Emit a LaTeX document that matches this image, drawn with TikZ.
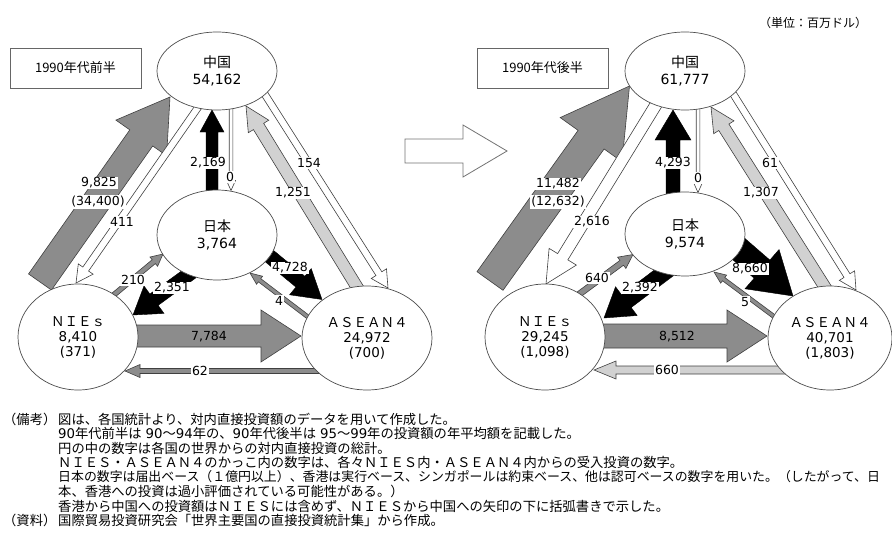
\documentclass[tikz,border=0pt]{standalone}
\usepackage{fontspec}
\setmainfont{Noto Sans CJK JP}
\newfontfamily\nm{DejaVu Sans}
\usetikzlibrary{calc,shapes.geometric}

\newcommand\fatarrow[6][]{%
  \coordinate (bh) at ($(#3)!#6!(#2)$);
  \draw[#1] ($(#2)!#4!90:(#3)$) -- ($(bh)!#4!-90:(#2)$) -- ($(bh)!#5!-90:(#2)$) -- (#3)
    -- ($(bh)!#5!90:(#2)$) -- ($(bh)!#4!90:(#2)$) -- ($(#2)!#4!-90:(#3)$) -- cycle;}

\tikzset{
  region/.style={ellipse, draw=black!70, line width=0.7pt, fill=white, inner sep=0pt,
    align=center, font=\fontsize{14}{17.5}\selectfont},
  tagbox/.style={draw=black!60, line width=0.8pt, minimum width=131pt, minimum height=40pt,
    inner sep=0pt, font=\fontsize{13}{15}\selectfont},
  darr/.style={draw=black!75, line width=0.6pt, line join=miter},
  grayarr/.style={darr, fill=black!45},
  lgarr/.style={darr, fill=black!18},
  blkarr/.style={draw=black, line width=0.4pt, fill=black},
  whtarr/.style={darr, fill=white},
  hollow/.style={draw=black!55, line width=0.8pt, fill=white},
  lbl/.style={font=\nm\fontsize{12.5}{14}\selectfont, fill=white, inner sep=1pt},
  lblnb/.style={font=\nm\fontsize{12.5}{14}\selectfont, inner sep=1pt},
  note/.style={anchor=west, font=\fontsize{13.3}{14}\selectfont, inner sep=0pt},
}

\begin{document}
\begin{tikzpicture}[x=1pt,y=-1pt]
\useasboundingbox (0,0) rectangle (892,535);

% ---------------- coordinates of arrow ends (left) ----------------
\coordinate (a1s) at (40,282);   \coordinate (a1e) at (170,97);
\coordinate (a2s) at (199,106);  \coordinate (a2e) at (76,283);
\coordinate (a3s) at (212,196);  \coordinate (a3e) at (212,110);
\coordinate (a4s) at (231,106);  \coordinate (a4e) at (231,190.5);
\coordinate (a5s) at (360,292);  \coordinate (a5e) at (246,106);
\coordinate (a6s) at (264,93);   \coordinate (a6e) at (388,288);
\coordinate (a7s) at (192,272);  \coordinate (a7e) at (133,315);
\coordinate (a8s) at (110,298);  \coordinate (a8e) at (163,254);
\coordinate (a9s) at (262,250);  \coordinate (a9e) at (322,299.5);
\coordinate (a10s) at (312,320); \coordinate (a10e) at (250,273);
\coordinate (a11s) at (130,336); \coordinate (a11e) at (301,336);
\coordinate (a12s) at (325,371); \coordinate (a12e) at (125,371);
% ---------------- coordinates of arrow ends (right) ----------------
\coordinate (b1s) at (490,281);  \coordinate (b1e) at (629.5,86);
\coordinate (b2s) at (657,103);  \coordinate (b2e) at (546,284);
\coordinate (b3s) at (673,197);  \coordinate (b3e) at (673,110);
\coordinate (b4s) at (698,106);  \coordinate (b4e) at (698,192.5);
\coordinate (b5s) at (828,292);  \coordinate (b5e) at (711,107);
\coordinate (b6s) at (732,92);   \coordinate (b6e) at (856,290);
\coordinate (b7s) at (669,269);  \coordinate (b7e) at (604,318);
\coordinate (b8s) at (574,298);  \coordinate (b8e) at (633,254.5);
\coordinate (b9s) at (733,244);  \coordinate (b9e) at (793,296);
\coordinate (b10s) at (776,318); \coordinate (b10e) at (714,272);
\coordinate (b11s) at (598,336); \coordinate (b11e) at (767,336);
\coordinate (b12s) at (790,370); \coordinate (b12e) at (594,370);
% middle arrow
\coordinate (ms) at (405,151);   \coordinate (me) at (507,151);

% ---------------- arrows (left) ----------------
\fatarrow[grayarr]{a1s}{a1e}{14pt}{31pt}{50pt}
\fatarrow[whtarr]{a2s}{a2e}{3.5pt}{9pt}{17pt}
\fatarrow[blkarr]{a3s}{a3e}{6pt}{12pt}{22pt}
\fatarrow[whtarr]{a4s}{a4e}{1.8pt}{4.5pt}{10pt}
\fatarrow[lgarr]{a5s}{a5e}{6pt}{12pt}{24pt}
\fatarrow[whtarr]{a6s}{a6e}{3.5pt}{9pt}{17pt}
\fatarrow[blkarr]{a7s}{a7e}{7pt}{17pt}{26pt}
\fatarrow[grayarr]{a8s}{a8e}{2.5pt}{6pt}{12pt}
\fatarrow[blkarr]{a9s}{a9e}{7pt}{17pt}{28pt}
\fatarrow[grayarr]{a10s}{a10e}{2pt}{5pt}{12pt}
\fatarrow[grayarr]{a11s}{a11e}{11pt}{26pt}{40pt}
\fatarrow[grayarr]{a12s}{a12e}{2.5pt}{6.5pt}{15pt}
% ---------------- arrows (right) ----------------
\fatarrow[grayarr]{b1s}{b1e}{16pt}{38pt}{66pt}
\fatarrow[whtarr]{b2s}{b2e}{6pt}{16pt}{32pt}
\fatarrow[blkarr]{b3s}{b3e}{7pt}{18pt}{30pt}
\fatarrow[whtarr]{b4s}{b4e}{1.8pt}{4.5pt}{10pt}
\fatarrow[lgarr]{b5s}{b5e}{6pt}{12pt}{24pt}
\fatarrow[whtarr]{b6s}{b6e}{3.5pt}{9pt}{17pt}
\fatarrow[blkarr]{b7s}{b7e}{8pt}{18pt}{28pt}
\fatarrow[grayarr]{b8s}{b8e}{3pt}{7pt}{14pt}
\fatarrow[blkarr]{b9s}{b9e}{12pt}{26pt}{41pt}
\fatarrow[grayarr]{b10s}{b10e}{2pt}{5pt}{12pt}
\fatarrow[grayarr]{b11s}{b11e}{12pt}{26pt}{40pt}
\fatarrow[lgarr]{b12s}{b12e}{4pt}{9pt}{22pt}
% middle hollow arrow
\fatarrow[hollow]{ms}{me}{12pt}{26pt}{44pt}

% ---------------- regions ----------------
\node[region, minimum width=120pt, minimum height=78pt] (cnL) at (217,71) {中国\\{\nm 54,162}};
\node[region, minimum width=120pt, minimum height=90pt] (jpL) at (217,235) {日本\\{\nm 3,764}};
\node[region, minimum width=120pt, minimum height=106pt, font=\fontsize{13.5}{15}\selectfont] (niL) at (78,337) {ＮＩＥｓ\\{\nm 8,410}\\{\nm (371)}};
\node[region, minimum width=130pt, minimum height=104pt, font=\fontsize{13.5}{15}\selectfont] (asL) at (367,338) {ＡＳＥＡＮ４\\{\nm 24,972}\\{\nm (700)}};

\node[region, minimum width=120pt, minimum height=78pt] (cnR) at (685,71) {中国\\{\nm 61,777}};
\node[region, minimum width=120pt, minimum height=84pt] (jpR) at (685,234) {日本\\{\nm 9,574}};
\node[region, minimum width=120pt, minimum height=106pt, font=\fontsize{13.5}{15}\selectfont] (niR) at (545,337) {ＮＩＥｓ\\{\nm 29,245}\\{\nm (1,098)}};
\node[region, minimum width=124pt, minimum height=104pt, font=\fontsize{13.5}{15}\selectfont] (asR) at (830,338) {ＡＳＥＡＮ４\\{\nm 40,701}\\{\nm (1,803)}};

% ---------------- tags ----------------
\node[tagbox] (tagL) at (75.5,68) {1990年代前半};
\node[tagbox] (tagR) at (542.5,68) {1990年代後半};
\node[font=\fontsize{12}{14}\selectfont, inner sep=0pt] (unit) at (813,23) {（単位：百万ドル）};

% ---------------- labels (left) ----------------
\node[lbl] (la1) at (99,183) {9,825};
\node[lbl] (la1b) at (98,202) {(34,400)};
\node[lbl] (la2) at (122,222) {411};
\node[lbl] (la3) at (208,163) {2,169};
\node[lbl] (la4) at (230,177) {0};
\node[lbl] (la5) at (293,193) {1,251};
\node[lbl] (la6) at (309,163) {154};
\node[lbl] (la7) at (172,288) {2,351};
\node[lbl] (la8) at (133,280) {210};
\node[lbl] (la9) at (290,268) {4,728};
\node[lbl] (la10) at (279,301) {4};
\node[lblnb] (la11) at (209,337) {7,784};
\node[lbl] (la12) at (200,371) {62};
% ---------------- labels (right) ----------------
\node[lbl] (lb1) at (558,184) {11,482};
\node[lbl] (lb1b) at (558,202) {(12,632)};
\node[lbl] (lb2) at (592,222) {2,616};
\node[lbl] (lb3) at (673,163) {4,293};
\node[lbl] (lb4) at (698,178) {0};
\node[lbl] (lb5) at (761,193) {1,307};
\node[lbl] (lb6) at (770,163) {61};
\node[lbl] (lb7) at (640,288) {2,392};
\node[lbl] (lb8) at (597,278) {640};
\node[lbl] (lb9) at (750,269) {8,660};
\node[lbl] (lb10) at (745,302) {5};
\node[lblnb] (lb11) at (677,337) {8,512};
\node[lbl] (lb12) at (667,370) {660};

% ---------------- notes ----------------
\node[note] (nh1) at (3,419) {（備考）};
\node[note] (n1) at (58,419) {図は、各国統計より、対内直接投資額のデータを用いて作成した。};
\node[note] (n2) at (58,433.5) {{\nm 90}年代前半は\hspace{4pt}{\nm 90}～{\nm 94}年の、{\nm 90}年代後半は\hspace{4pt}{\nm 95}～{\nm 99}年の投資額の年平均額を記載した。};
\node[note] (n3) at (58,448) {円の中の数字は各国の世界からの対内直接投資の総計。};
\node[note] (n4) at (58,462.5) {ＮＩＥＳ・ＡＳＥＡＮ４のかっこ内の数字は、各々ＮＩＥＳ内・ＡＳＥＡＮ４内からの受入投資の数字。};
\node[note, font=\fontsize{12.9}{14}\selectfont] (n5) at (58,477) {日本の数字は届出ベース（１億円以上）、香港は実行ベース、シンガポールは約束ベース、他は認可ベースの数字を用いた。（したがって、日};
\node[note] (n6) at (58,491.5) {本、香港への投資は過小評価されている可能性がある。）};
\node[note] (n7) at (58,506) {香港から中国への投資額はＮＩＥＳには含めず、ＮＩＥＳから中国への矢印の下に括弧書きで示した。};
\node[note] (nh2) at (3,520.5) {（資料）};
\node[note] (n8) at (58,520.5) {国際貿易投資研究会「世界主要国の直接投資統計集」から作成。};
\end{tikzpicture}
\end{document}
